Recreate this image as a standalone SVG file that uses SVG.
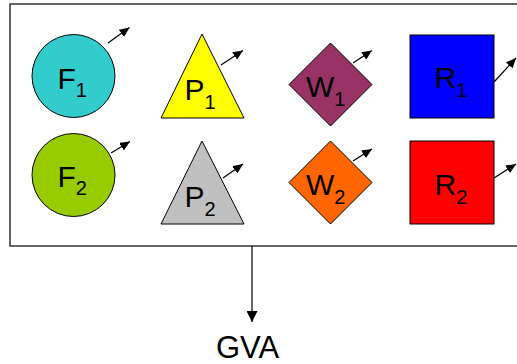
<svg xmlns="http://www.w3.org/2000/svg" width="517" height="364" viewBox="0 0 517 364">
<style>
.shape{stroke:#000;stroke-width:1}
.lbl{font-family:"Liberation Sans",Arial,sans-serif;font-size:30px;fill:#000}
.sub{font-size:20px}
.conn{stroke:#000;stroke-width:1.2;fill:none}
</style>
<defs>
<marker id="ah" markerUnits="userSpaceOnUse" markerWidth="10" markerHeight="9" refX="10" refY="4.5" orient="auto">
<path d="M0,0 L10,4.5 L0,9 Z" fill="#000"/>
</marker>
<marker id="ahBig" markerUnits="userSpaceOnUse" markerWidth="11" markerHeight="11" refX="11" refY="5.5" orient="auto">
<path d="M0,0 L11,5.5 L0,11 Z" fill="#000"/>
</marker>
</defs>
<rect x="10" y="4" width="520" height="242" fill="#fff" stroke="#333" stroke-width="1.5"/>
<g id="F1"><circle class="shape" cx="73.5" cy="76" r="41.5" fill="#33CCCC"/><text class="lbl" x="57.5" y="88.5">F<tspan class="sub" dy="8">1</tspan></text></g>
<g id="P1"><polygon class="shape" points="202,34 244,118 161,118" fill="#FFFF00"/><text class="lbl" x="184.5" y="99.5">P<tspan class="sub" dy="9">1</tspan></text></g>
<g id="W1"><polygon class="shape" points="330.5,43 372,84.5 330.5,126 289,84.5" fill="#993366"/><text class="lbl" x="306" y="97">W<tspan class="sub" dy="9">1</tspan></text></g>
<g id="R1"><rect class="shape" x="410" y="35" width="84" height="83" fill="#0000FF"/><text class="lbl" x="434.5" y="88">R<tspan class="sub" dy="9">1</tspan></text></g>
<g id="F2"><circle class="shape" cx="73.5" cy="175" r="41.5" fill="#99CC00"/><text class="lbl" x="57.5" y="187">F<tspan class="sub" dy="8">2</tspan></text></g>
<g id="P2"><polygon class="shape" points="202,141 244,224 161,224" fill="#C0C0C0"/><text class="lbl" x="184.5" y="206.5">P<tspan class="sub" dy="9">2</tspan></text></g>
<g id="W2"><polygon class="shape" points="330.5,141 372,182.5 330.5,224 289,182.5" fill="#FF6600"/><text class="lbl" x="306" y="195">W<tspan class="sub" dy="9">2</tspan></text></g>
<g id="R2"><rect class="shape" x="410" y="141" width="84" height="83" fill="#FF0000"/><text class="lbl" x="434.5" y="194.5">R<tspan class="sub" dy="9">2</tspan></text></g>
<g id="GVA"><text class="lbl" x="216" y="358" style="font-size:31px">GVA</text></g>
<g id="connectors">
<line class="conn" x1="108" y1="43" x2="129.5" y2="27.5" marker-end="url(#ah)"/>
<line class="conn" x1="221" y1="65" x2="243" y2="50.5" marker-end="url(#ah)"/>
<line class="conn" x1="353" y1="63" x2="372" y2="50.5" marker-end="url(#ah)"/>
<line class="conn" x1="494" y1="82" x2="516" y2="58" marker-end="url(#ah)"/>
<line class="conn" x1="111" y1="153" x2="130" y2="141.5" marker-end="url(#ah)"/>
<line class="conn" x1="223" y1="178" x2="243" y2="164" marker-end="url(#ah)"/>
<line class="conn" x1="353" y1="161" x2="372" y2="149" marker-end="url(#ah)"/>
<line class="conn" x1="494" y1="178" x2="516" y2="164" marker-end="url(#ah)"/>
<line class="conn" x1="252" y1="246" x2="252" y2="322" marker-end="url(#ahBig)"/>
</g>
</svg>
